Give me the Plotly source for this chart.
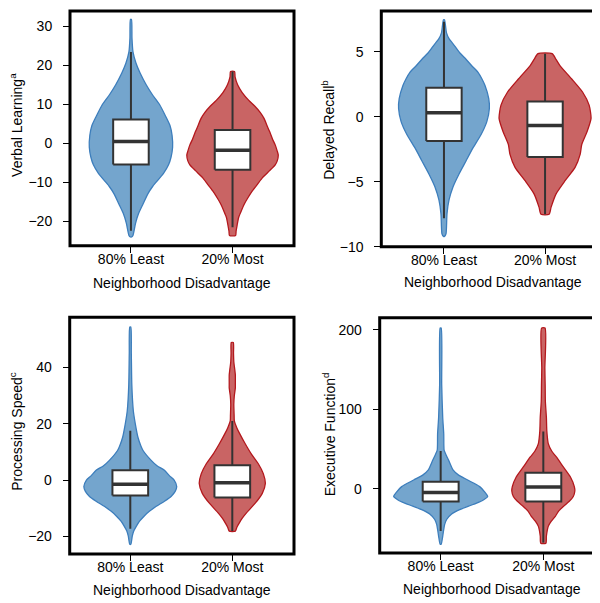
import plotly.graph_objects as go

# ---------------- data ----------------
groups = ["80% Least", "20% Most"]
panel_titles = ["Verbal Learning<sup>a</sup>", "Delayed Recall<sup>b</sup>",
                "Processing Speed<sup>c</sup>", "Executive Function<sup>d</sup>"]
x_title = "Neighborhood Disadvantage"

# violin outlines: value levels and half-widths (in category units)
vl_least_y = [31.7, 27, 23.4, 20.5, 18, 15, 12.5, 10, 7, 4.5, 2, -1, -3.5, -5.5, -7.5, -9, -11, -13, -15.5, -18, -20.5, -22.5, -23.6, -24]
vl_least_w = [0.005, 0.01, 0.02, 0.05, 0.09, 0.15, 0.21, 0.28, 0.34, 0.385, 0.405, 0.41, 0.395, 0.37, 0.325, 0.28, 0.215, 0.165, 0.12, 0.075, 0.045, 0.03, 0.02, 0.005]
vl_most_y = [18.4, 17, 15, 13, 11, 9.5, 8, 6.4, 4.5, 3, 1, -0.4, -2, -3, -4.5, -5.5, -7, -8.8, -10.5, -12.2, -14, -15.6, -17.5, -19, -21, -22.5, -23.6]
vl_most_w = [0.02, 0.025, 0.05, 0.095, 0.16, 0.22, 0.27, 0.31, 0.34, 0.365, 0.395, 0.42, 0.44, 0.45, 0.44, 0.42, 0.365, 0.295, 0.245, 0.195, 0.15, 0.115, 0.083, 0.06, 0.045, 0.035, 0.03]

dr_least_y = [7.45, 7.0, 6.44, 6.0, 5.43, 4.9, 4.42, 3.9, 3.41, 2.9, 2.4, 1.39, 0.63, -0.38, -1.39, -2.4, -3.4, -4.4, -5.4, -6.4, -7.45, -8.46, -9.0, -9.2]
dr_least_w = [0.005, 0.015, 0.025, 0.05, 0.107, 0.158, 0.218, 0.277, 0.337, 0.376, 0.406, 0.443, 0.449, 0.424, 0.366, 0.287, 0.218, 0.149, 0.089, 0.05, 0.03, 0.025, 0.02, 0.005]
dr_most_y = [4.85, 4.4, 3.91, 2.9, 1.9, 0.89, -0.13, -1.14, -2.14, -2.9, -3.9, -4.92, -5.93, -6.95, -7.5]
dr_most_w = [0.07, 0.109, 0.149, 0.264, 0.371, 0.436, 0.455, 0.416, 0.363, 0.347, 0.297, 0.198, 0.109, 0.06, 0.04]

ps_least_y = [54.3, 45, 33.8, 24.5, 19.8, 15.2, 12, 10.5, 7.0, 5, 3.5, 1.5, 0, -2.3, -4, -5.8, -7.5, -9.3, -11, -12.8, -14.5, -16.3, -18, -19.8, -22.8]
ps_least_w = [0.005, 0.01, 0.015, 0.03, 0.05, 0.075, 0.105, 0.125, 0.205, 0.265, 0.335, 0.385, 0.43, 0.455, 0.44, 0.40, 0.335, 0.255, 0.19, 0.135, 0.093, 0.06, 0.035, 0.02, 0.005]
ps_most_y = [48.8, 45, 42, 39, 37.3, 34, 32.7, 30, 26.8, 23, 21.0, 18.5, 16.3, 12.8, 9.3, 5.8, 2.3, -1.2, -4.7, -8.2, -11.7, -13.5, -15.2, -16.8, -18.1]
ps_most_w = [0.01, 0.012, 0.015, 0.025, 0.03, 0.03, 0.03, 0.02, 0.015, 0.018, 0.02, 0.045, 0.075, 0.128, 0.186, 0.255, 0.304, 0.324, 0.294, 0.225, 0.137, 0.098, 0.069, 0.044, 0.03]

ef_least_y = [202, 131, 89.4, 68.7, 55, 48, 42, 35.6, 23.2, 17, 10.8, 2.5, -4, -9.9, -14, -18.3, -22, -26.5, -32, -38.9, -45, -51.3, -60, -70]
ef_least_w = [0.005, 0.01, 0.02, 0.03, 0.031, 0.034, 0.054, 0.078, 0.122, 0.175, 0.263, 0.38, 0.428, 0.458, 0.419, 0.35, 0.273, 0.185, 0.107, 0.058, 0.039, 0.03, 0.02, 0.005]
ef_most_y = [202, 151.6, 130, 110, 89.4, 72.9, 56.3, 47, 39.8, 27.3, 14.9, 2.5, -3, -9.9, -16, -22.4, -28, -34.8, -41, -47.2, -59.6, -68.7]
ef_most_w = [0.017, 0.015, 0.018, 0.02, 0.03, 0.034, 0.049, 0.083, 0.127, 0.195, 0.263, 0.302, 0.307, 0.292, 0.253, 0.195, 0.151, 0.117, 0.078, 0.049, 0.03, 0.025]

# box statistics: [80% Least, 20% Most]
vl_lo, vl_q1, vl_med, vl_q3, vl_hi = [-22.4, -21.5], [-5.4, -6.8], [0.45, -1.8], [6.1, 3.4], [23.4, 18.4]
dr_lo, dr_q1, dr_med, dr_q3, dr_hi = [-7.8, -7.5], [-1.87, -3.1], [0.30, -0.68], [2.22, 1.16], [7.3, 4.85]
ps_lo, ps_q1, ps_med, ps_q3, ps_hi = [-17.3, -18.1], [-5.5, -6.2], [-1.5, -0.95], [3.5, 5.25], [17.5, 21.0]
ef_lo, ef_q1, ef_med, ef_q3, ef_hi = [-53.4, -68], [-16.1, -16.1], [-5.0, 2.1], [8.7, 19.9], [47.2, 71.7]

y_ranges = [[-26.25, 33.9], [-10, 8.13], [-26.2, 57.8], [-81, 214.9]]
y_ticks = [[-20, -10, 0, 10, 20, 30], [-10, -5, 0, 5], [-20, 0, 20, 40], [0, 100, 200]]

# ---------------- styles ----------------
FILL = ["#74a5cd", "#c96464"]
EDGE = ["#3d7ebc", "#b3181d"]
BOXLINE = "#333333"
FONT = "Liberation Sans, Arial, Helvetica, sans-serif"
W, H = 600, 603

# panel frames in pixels (left, right, top, bottom)
frames = [(62, 286, 3, 241), (373.3, 596.7, 3, 242), (61.7, 286, 313.3, 553.3), (371.7, 596.7, 314, 552.3)]
x_ranges = [[-0.60, 1.605], [-0.62, 1.59], [-0.594, 1.605], [-0.594, 1.598]]
ytitle_x = [8.5, 320.5, 8.5, 321]
ytitle_y = [119, 124, 429, 432]
xtitle_y = [279, 278, 590, 589]

violins = [
    [(vl_least_y, vl_least_w), (vl_most_y, vl_most_w)],
    [(dr_least_y, dr_least_w), (dr_most_y, dr_most_w)],
    [(ps_least_y, ps_least_w), (ps_most_y, ps_most_w)],
    [(ef_least_y, ef_least_w), (ef_most_y, ef_most_w)],
]
boxes = [
    (vl_lo, vl_q1, vl_med, vl_q3, vl_hi),
    (dr_lo, dr_q1, dr_med, dr_q3, dr_hi),
    (ps_lo, ps_q1, ps_med, ps_q3, ps_hi),
    (ef_lo, ef_q1, ef_med, ef_q3, ef_hi),
]
HB = 0.175  # half box width (category units)

fig = go.Figure()
layout = dict(width=W, height=H, margin=dict(l=0, r=0, t=0, b=0),
              paper_bgcolor="white", plot_bgcolor="white", showlegend=False,
              font=dict(family=FONT, size=14, color="black"))
shapes, annotations = [], []

for p in range(4):
    sfx = "" if p == 0 else str(p + 1)
    xa, ya = "x" + sfx, "y" + sfx
    L, R, T, B = frames[p]
    layout["xaxis" + sfx] = dict(domain=[L / W, R / W], range=x_ranges[p], anchor=ya,
                                 tickvals=[0, 1], ticktext=groups, ticks="outside", ticklen=6,
                                 tickwidth=1, tickcolor="black", showgrid=False, zeroline=False,
                                 showline=False, ticklabelstandoff=-6,
                                 tickfont=dict(size=14, family=FONT))
    layout["yaxis" + sfx] = dict(domain=[1 - B / H, 1 - T / H], range=y_ranges[p], anchor=xa,
                                 tickvals=y_ticks[p], ticks="outside", ticklen=6, tickwidth=1,
                                 tickcolor="black", showgrid=False, zeroline=False, showline=False,
                                 ticklabelstandoff=8,
                                 tickfont=dict(size=14, family=FONT))
    lo, q1, med, q3, hi = boxes[p]
    for g in range(2):
        vy, vw = violins[p][g]
        xs = [g + w for w in vw] + [g - w for w in reversed(vw)] + [g + vw[0]]
        ys = list(vy) + list(reversed(vy)) + [vy[0]]
        fig.add_trace(go.Scatter(x=xs, y=ys, xaxis=xa, yaxis=ya, mode="lines", fill="toself",
                                 fillcolor=FILL[g], line=dict(color=EDGE[g], width=1.3, shape="spline", smoothing=0.6),
                                 hoverinfo="skip"))
        # whisker
        fig.add_trace(go.Scatter(x=[g, g], y=[lo[g], hi[g]], xaxis=xa, yaxis=ya, mode="lines",
                                 line=dict(color=BOXLINE, width=2), hoverinfo="skip"))
        # box
        fig.add_trace(go.Scatter(x=[g - HB, g + HB, g + HB, g - HB, g - HB],
                                 y=[q1[g], q1[g], q3[g], q3[g], q1[g]], xaxis=xa, yaxis=ya,
                                 mode="lines", fill="toself", fillcolor="white",
                                 line=dict(color=BOXLINE, width=2), hoverinfo="skip"))
        # median
        fig.add_trace(go.Scatter(x=[g - HB, g + HB], y=[med[g], med[g]],
                                 xaxis=xa, yaxis=ya, mode="lines",
                                 line=dict(color=BOXLINE, width=3.5), hoverinfo="skip"))
    shapes.append(dict(type="rect", xref=xa + " domain", yref=ya + " domain", x0=0, x1=1, y0=0, y1=1,
                       line=dict(color="black", width=3), layer="above"))
    annotations.append(dict(text=panel_titles[p], xref="paper", yref="paper",
                            x=ytitle_x[p] / W, y=1 - ytitle_y[p] / H, textangle=-90,
                            showarrow=False, xanchor="center", yanchor="middle",
                            font=dict(size=14, family=FONT)))
    annotations.append(dict(text=x_title, xref="paper", yref="paper",
                            x=(L + R) / 2 / W, y=1 - xtitle_y[p] / H, showarrow=False,
                            xanchor="center", yanchor="middle", font=dict(size=14, family=FONT)))

layout["shapes"] = shapes
layout["annotations"] = annotations
fig.update_layout(**layout)
fig.write_html("out.html")
